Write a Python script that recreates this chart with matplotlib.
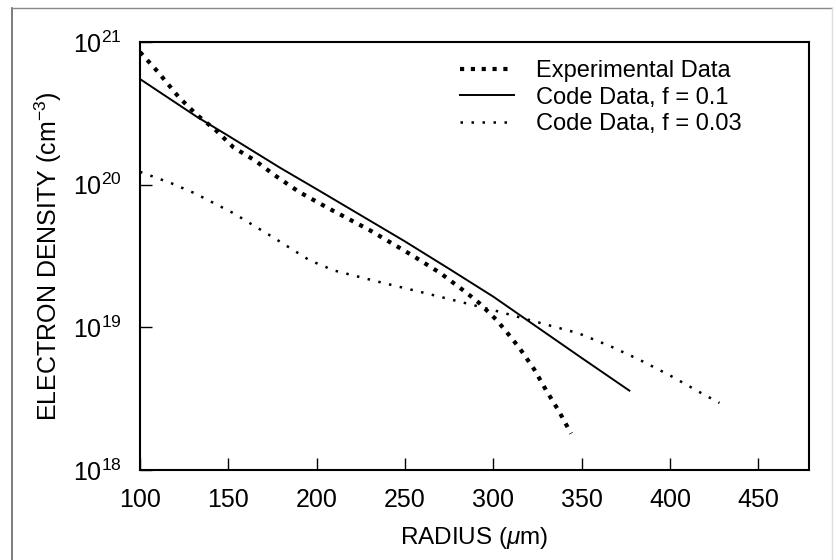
import matplotlib
matplotlib.use("Agg")
import matplotlib.pyplot as plt
from matplotlib.lines import Line2D

plt.rcParams['font.family'] = ['Liberation Sans', 'DejaVu Sans']
plt.rcParams['mathtext.fontset'] = 'custom'
plt.rcParams['mathtext.rm'] = 'Liberation Sans'
plt.rcParams['mathtext.it'] = 'Liberation Sans:italic'
plt.rcParams['mathtext.default'] = 'regular'

# measured electron density profile
exp_r = [100, 110, 122, 132, 143, 153, 165, 176, 190, 206, 230, 254,
         270, 285, 292, 302, 310, 315, 323, 330, 337, 344]
exp_ne = [8.5e20, 6.2e20, 4.1e20, 3.1e20, 2.4e20, 1.82e20, 1.48e20, 1.17e20,
          8.9e19, 6.9e19, 4.8e19, 3.2e19, 2.4e19, 1.74e19, 1.48e19, 1.12e19,
          8.5e18, 7.1e18, 5.1e18, 3.6e18, 2.6e18, 1.8e18]

# code results, f = 0.1
f01_r = [100, 132, 150, 179, 200, 225, 250, 275, 300, 325, 350, 377]
f01_ne = [5.5e20, 3.0e20, 2.2e20, 1.32e20, 9.3e19, 6.1e19, 4.0e19, 2.57e19,
          1.64e19, 1.0e19, 6.1e18, 3.6e18]

# code results, f = 0.03
f003_r = [100, 118, 131, 153, 175, 196, 210, 234, 258, 284, 303, 321,
          348, 366, 383, 400, 417, 428]
f003_ne = [1.23e20, 1.02e20, 8.7e19, 6.3e19, 4.3e19, 2.95e19, 2.5e19, 2.1e19,
           1.78e19, 1.48e19, 1.29e19, 1.12e19, 9.1e18, 7.4e18, 5.9e18, 4.6e18,
           3.5e18, 2.95e18]

fig = plt.figure(figsize=(8.37, 5.6), dpi=100)
ax = fig.add_axes([140 / 837, 1 - 470 / 560, 668.7 / 837, 428 / 560])

ax.plot(exp_r, exp_ne, color='black', lw=3, linestyle=(0, (1, 1.6)),
        dash_capstyle='butt', label='Experimental Data')
ax.plot(f01_r, f01_ne, color='black', lw=1.4, label='Code Data, f = 0.1')
ax.plot(f003_r, f003_ne, color='black', lw=1.8, linestyle=(0, (1, 3.4)),
        dash_capstyle='butt', label='Code Data, f = 0.03')

ax.set_yscale('log')
ax.set_xlim(100, 478.5)
ax.set_ylim(1e18, 1e21)
ax.set_xticks([100, 150, 200, 250, 300, 350, 400, 450])
ax.set_yticks([1e18, 1e19, 1e20, 1e21])
ax.yaxis.set_minor_locator(matplotlib.ticker.NullLocator())

for s in ax.spines.values():
    s.set_linewidth(1.5)
ax.tick_params(axis='both', direction='in', length=8.5, width=1,
               labelsize=18, pad=13, top=False, right=False)

ax.set_xlabel(r'RADIUS ($\mathit{\mu}$m)', fontsize=17.5, labelpad=9)
ax.set_ylabel(r'ELECTRON DENSITY (cm$^{-3}$)', fontsize=18)
ax.yaxis.set_label_coords(-0.113, 0.5)

ax.legend(loc='upper left', bbox_to_anchor=(0.4785, 0.957), frameon=False,
          fontsize=17, handlelength=2.3, handletextpad=0.9,
          labelspacing=0.18, borderpad=0, borderaxespad=0)

# scanned page border
fig.add_artist(Line2D([12 / 837, 12 / 837], [0, 1 - 8 / 560],
                      color='#666666', lw=1.2))
fig.add_artist(Line2D([12 / 837, 832 / 837], [1 - 8 / 560, 1 - 8 / 560],
                      color='#888888', lw=1.0))
fig.add_artist(Line2D([832 / 837, 832 / 837], [0, 1 - 8 / 560],
                      color='#dddddd', lw=1.0))

fig.savefig('out.png', dpi=100)
